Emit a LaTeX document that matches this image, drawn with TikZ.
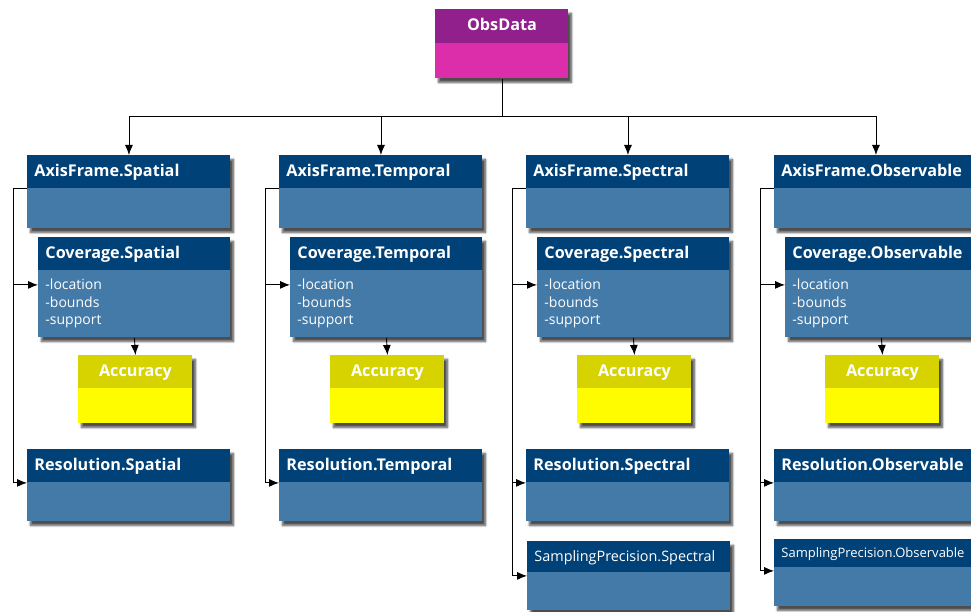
\documentclass[tikz,border=0pt]{standalone}
\usepackage{fontspec}
\setmainfont{Open Sans}
\usepackage{tikz}
\usetikzlibrary{shapes, arrows.meta, positioning, shadows, shadows.blur}

\definecolor{hdrblue}{RGB}{0,65,119}
\definecolor{bodyblue}{RGB}{68,122,168}
\definecolor{hdrpurple}{RGB}{146,32,140}
\definecolor{bodypink}{RGB}{220,46,170}
\definecolor{hdrolive}{RGB}{214,211,0}
\definecolor{bodyyellow}{RGB}{255,252,0}

\begin{document}
\begin{tikzpicture}[x=1pt, y=-1pt, line width=0.9pt, >={Latex[length=10pt,width=8pt]},
    box/.style={anchor=north west, inner sep=0pt, fill=bodyblue,
        blur shadow={shadow xshift=3pt, shadow yshift=-4pt, shadow blur steps=6, shadow opacity=70}},
    head/.style={anchor=north west, inner xsep=7pt, inner ysep=0pt, fill=hdrblue, text=white,
        minimum height=33pt, text width=#1, text height=12.5pt, text depth=3.5pt, align=left,
        font=\bfseries\fontsize{16.2}{18}\selectfont},
    list/.style={anchor=north west, inner xsep=7pt, inner ysep=8pt, text=white, align=left,
        font=\fontsize{14}{17.5}\selectfont}]
        \useasboundingbox (0,0) rectangle (971,612);
        \clip (0,0) rectangle (971,612);

        % Root
        \node[box, fill=bodypink, minimum width=133pt, minimum height=69pt] (obs) at (435,9) {};
        \node[head=119pt, fill=hdrpurple, align=center, minimum height=34pt] (obs-h) at (obs.north west) {ObsData};
        \coordinate (bus) at (obs.south |- 0,116);
        \draw (obs.south) -- (bus);

        % Columns
        \foreach \n/\x in {Spatial/27, Temporal/279, Spectral/526, Observable/774} {
            \node[box, minimum width=203pt, minimum height=73pt] (af\n) at (\x,155) {};
            \node[head=189pt] (af\n-h) at (af\n.north west) {AxisFrame.\n};

            \node[box, minimum width=192pt, minimum height=100pt] (cov\n) at (\x+11,237) {};
            \node[head=178pt] (cov\n-h) at (cov\n.north west) {Coverage.\n};
            \node[list] (cov\n-t) at (cov\n-h.south west) {-location\\-bounds\\-support};

            \node[box, fill=bodyyellow, minimum width=114pt, minimum height=68pt] (acc\n) at (\x+51,355) {};
            \node[head=100pt, fill=hdrolive, align=center] (acc\n-h) at (acc\n.north west) {Accuracy};

            \node[box, minimum width=203pt, minimum height=72pt] (res\n) at (\x,449) {};
            \node[head=189pt] (res\n-h) at (res\n.north west) {Resolution.\n};

            \draw[->] (bus) -| (af\n-h.north);
            \draw[->] (cov\n.south) -- (acc\n.north);
            \draw[->] (af\n-h.south west) -- ++(-14,0) |- (res\n-h.south west);
            \draw[->] (af\n-h.south west) ++(-14,0) |- ([yshift=-14pt]cov\n-h.south west);
        }

        % Sampling precision
        \node[box, minimum width=203pt, minimum height=69pt] (spSpectral) at (527,541) {};
        \node[head=189pt, minimum height=31pt, font=\fontsize{14.4}{16}\selectfont] (spSpectral-h) at (spSpectral.north west) {SamplingPrecision.Spectral};
        \draw[->] (afSpectral-h.south west) ++(-14,0) |- ([yshift=-3pt]spSpectral-h.south west);

        \node[box, minimum width=203pt, minimum height=67pt] (spObservable) at (774,539) {};
        \node[head=189pt, minimum height=28pt, text height=11pt, font=\fontsize{13}{15}\selectfont] (spObservable-h) at (spObservable.north west) {SamplingPrecision.Observable};
        \draw[->] (afObservable-h.south west) ++(-14,0) |- ([yshift=-3pt]spObservable-h.south west);
    \end{tikzpicture}
\end{document}
